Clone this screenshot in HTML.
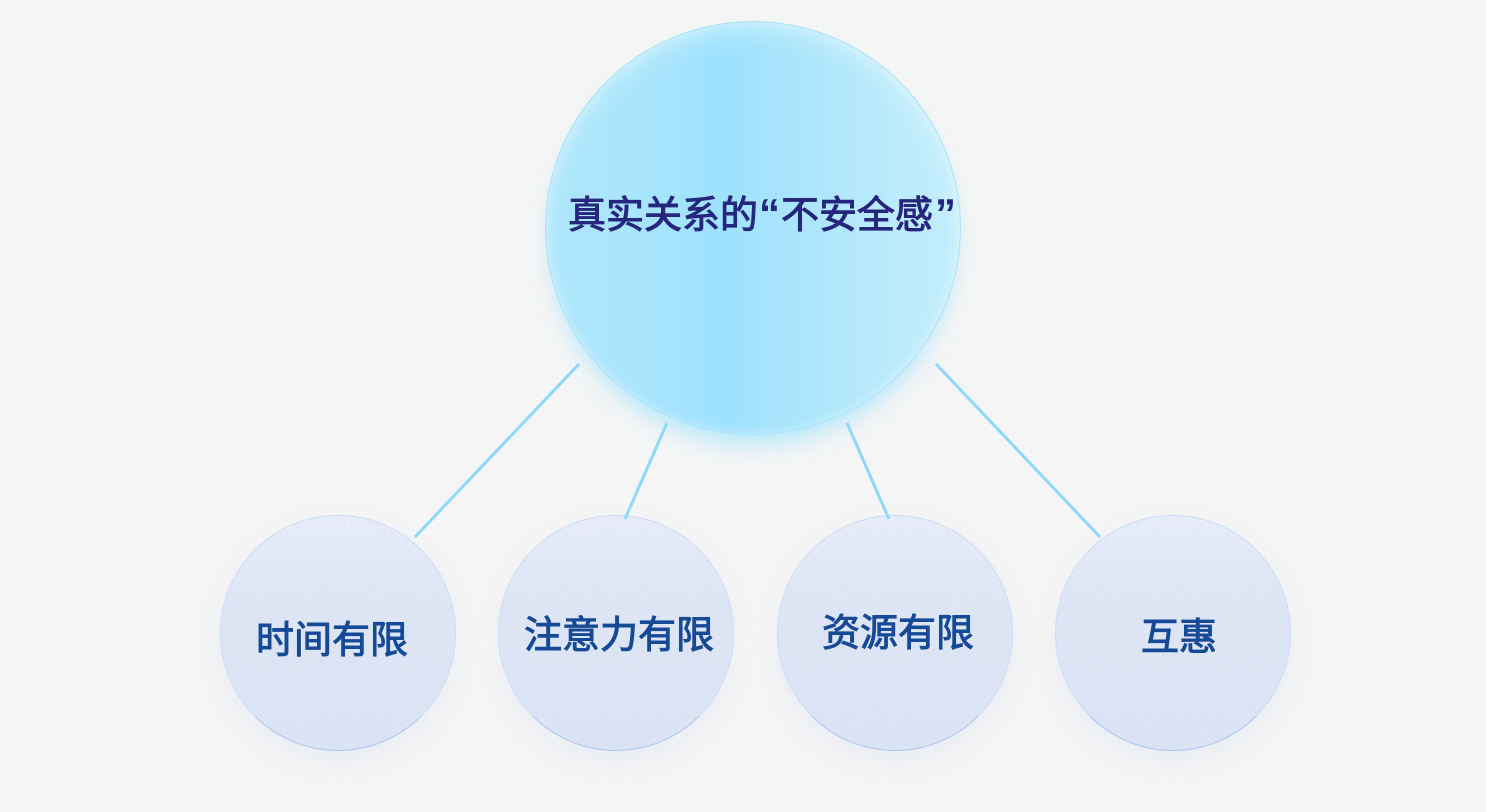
<!DOCTYPE html>
<html lang="zh">
<head>
<meta charset="utf-8">
<style>
html,body{margin:0;padding:0;background:#f5f5f5;width:1486px;height:812px;overflow:hidden}
#s{position:relative;width:1486px;height:812px;font-family:"Liberation Sans","Noto Sans CJK SC",sans-serif;font-weight:400}
.big{position:absolute;left:545px;top:21px;width:416px;height:414px;border-radius:50%;box-sizing:border-box;border:1px solid #a5e3fb;
background:linear-gradient(90deg,#aee6fc 0%,#a9e5fc 20%,#9ee2fd 43%,#a9e5fc 60%,#bcebfb 85%,#c2edfb 100%);
box-shadow:0 16px 24px -8px rgba(130,220,255,.6),inset 0 10px 24px rgba(255,255,255,.34),inset 0 0 10px rgba(255,255,255,.35)}
.small{position:absolute;top:515px;width:236px;height:236px;border-radius:50%;box-sizing:border-box;border:1px solid #cbdaf5;border-bottom-color:#a9c4f3;
background:linear-gradient(180deg,#e9eef9 0%,#e0e7f5 30%,#dbe4f4 100%);
box-shadow:0 10px 22px rgba(170,190,230,.16)}
.t{position:absolute;white-space:nowrap;line-height:46px;font-size:38px;-webkit-text-stroke:1px currentColor}
.t1{color:#26267f}
.t2{color:#174a96}
.q{font-weight:700;-webkit-text-stroke:0;font-size:42px;line-height:1px}
svg.l{position:absolute;left:0;top:0}
</style>
</head>
<body>
<div id="s">
<svg width="0" height="0" style="position:absolute">
<filter id="n" x="0" y="0" width="100%" height="100%">
<feTurbulence type="fractalNoise" baseFrequency=".55" numOctaves="3" seed="4"/>
<feColorMatrix type="matrix" values="0 0 0 0 .6  0 0 0 0 .68  0 0 0 0 .85  0 0 0 1.6 -.7"/>
<feComposite operator="in" in2="SourceAlpha"/>
</filter>
</svg>
<div class="big"></div>
<div class="small" style="left:220px"></div>
<div class="small" style="left:498px"></div>
<div class="small" style="left:777px"></div>
<div class="small" style="left:1055px"></div>
<svg class="l" width="1486" height="812" viewBox="0 0 1486 812">
<g filter="url(#n)" opacity=".6">
<circle cx="338" cy="633" r="116"/>
<circle cx="616" cy="633" r="116"/>
<circle cx="895" cy="633" r="116"/>
<circle cx="1173" cy="633" r="116"/>
</g>
<g stroke="#8dd8fb" stroke-width="3" fill="none">
<line x1="579" y1="364" x2="415" y2="537"/>
<line x1="667" y1="423" x2="625" y2="519"/>
<line x1="847" y1="423" x2="889" y2="519"/>
<line x1="936" y1="364" x2="1100" y2="537"/>
</g>
</svg>
<div class="t t1" style="left:568px;top:193px">真实关系的<span class="q" style="margin-left:1px;margin-right:1px">“</span>不安全感<span class="q" style="margin-left:2px">”</span></div>
<div class="t t2" style="left:256px;top:618px">时间有限</div>
<div class="t t2" style="left:524px;top:613px">注意力有限</div>
<div class="t t2" style="left:822px;top:611px">资源有限</div>
<div class="t t2" style="left:1141px;top:615px">互惠</div>
</div>
</body>
</html>
